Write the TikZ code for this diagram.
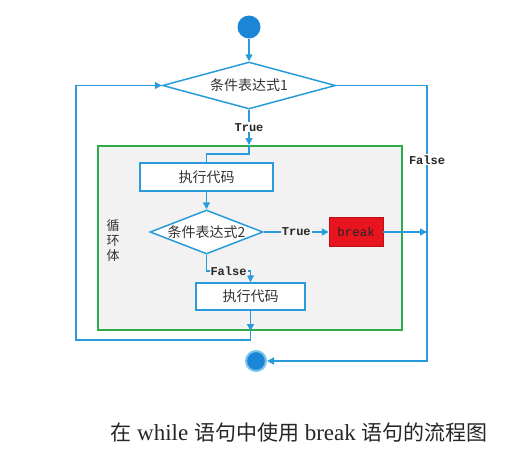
\documentclass[tikz,border=0pt]{standalone}
\usepackage{fontspec}
\setmainfont{Liberation Serif}
\setmonofont{Liberation Mono}
\newfontfamily\cjk{Noto Sans CJK SC}
\usetikzlibrary{shapes.geometric, positioning, calc, arrows.meta}

\definecolor{flowblue}{RGB}{41,155,220}
\definecolor{dotblue}{RGB}{28,134,214}
\definecolor{bodygreen}{RGB}{46,172,72}
\definecolor{bodygray}{RGB}{242,242,242}
\definecolor{breakred}{RGB}{232,20,30}

\begin{document}
\begin{tikzpicture}[x=1pt, y=-1pt,
  flowline/.style={draw=flowblue, line width=1.5pt},
  flowarrow/.style={flowline, -{Triangle[length=7pt, width=7pt]}},
  codebox/.style={rectangle, draw=flowblue, line width=1.5pt, fill=white, inner sep=0pt, text=black!80, font={\cjk\fontsize{14pt}{16pt}\selectfont}},
  condbox/.style={diamond, draw=flowblue, line width=1.5pt, fill=white, inner sep=-5pt, text=black!80, font={\cjk\fontsize{14pt}{16pt}\selectfont}},
  branchlbl/.style={inner sep=1pt, text=black!85, font={\ttfamily\bfseries\fontsize{12pt}{14pt}\selectfont}},
]
  \newcommand\flowdotsize{23pt} % start dot
  \newcommand\rightlinex{427}
  \newcommand\capcjk[1]{{\cjk\fontsize{21pt}{24pt}\selectfont #1}}

  \useasboundingbox (0,0) rectangle (521,461);

  \node[circle, fill=dotblue, inner sep=0pt, minimum size=\flowdotsize] at (249,27) (start) {};
  \node[condbox, minimum width=173pt, minimum height=47pt, aspect=3.7] at (249,85.5) (cond1) {条件表达式1};

  \node[rectangle, draw=bodygreen, fill=bodygray, line width=2pt, minimum width=304pt, minimum height=184pt] at (250,238) (body) {};
  \node[align=center, text=black!80, font={\cjk\fontsize{13pt}{15pt}\selectfont}] at (113,241) (bodylbl) {循\\环\\体};

  \node[codebox, minimum width=133pt, minimum height=28pt] at (206.5,177) (code1) {执行代码};
  \node[condbox, minimum width=113pt, minimum height=44pt, aspect=2.57] at (206.5,232) (cond2) {条件表达式2};
  \node[rectangle, draw=breakred!80!black, fill=breakred, line width=0.6pt, minimum width=54pt, minimum height=29pt, text=black!85, font={\ttfamily\fontsize{12.5pt}{14pt}\selectfont}, right=65pt of cond2] (brk) {break};
  \node[codebox, minimum width=109pt, minimum height=27pt] at (250.5,296.5) (code2) {执行代码};

  \node[circle, fill=dotblue, draw=flowblue!60, line width=2pt, inner sep=0pt, minimum size=20pt] at (256,361) (end) {};

  \coordinate (loopin) at (cond1.south |- body.north);
  \coordinate (bodyout) at (code2.south |- body.south);
  \coordinate (backleft) at (76,340);
  \coordinate (exittop) at (\rightlinex,85.5);
  \coordinate (exitbot) at (\rightlinex,361);

  \draw[flowarrow] (start) -- (cond1.north);
  \draw[flowarrow] (cond1.south) -- node[branchlbl, fill=white] {True} (loopin);
  \draw[flowline] (loopin) -- ++(0,9) -| (code1.north);
  \draw[flowarrow] (code1.south) -- (cond2.north);
  \draw[flowarrow] (cond2.east) -- node[branchlbl, fill=bodygray] {True} (brk.west);
  \draw[flowarrow] (brk.east) -- (brk.east -| exittop);
  \draw[flowarrow] (cond2.south) -- ++(0,16) -| node[branchlbl, fill=bodygray, pos=0.25] {False} (code2.north);
  \draw[flowarrow] (code2.south) -- (bodyout);
  \draw[flowarrow] (bodyout) |- (backleft) |- (cond1.west);
  \draw[flowarrow] (cond1.east) -- (exittop) -- node[branchlbl, fill=white, pos=0.27] {False} (exitbot) -- (end.east);

  \node[font=\fontsize{23pt}{26pt}\selectfont, text=black!85] at (299,433) (caption) {\capcjk{在} while \capcjk{语句中使用} break \capcjk{语句的流程图}};
\end{tikzpicture}
\end{document}
